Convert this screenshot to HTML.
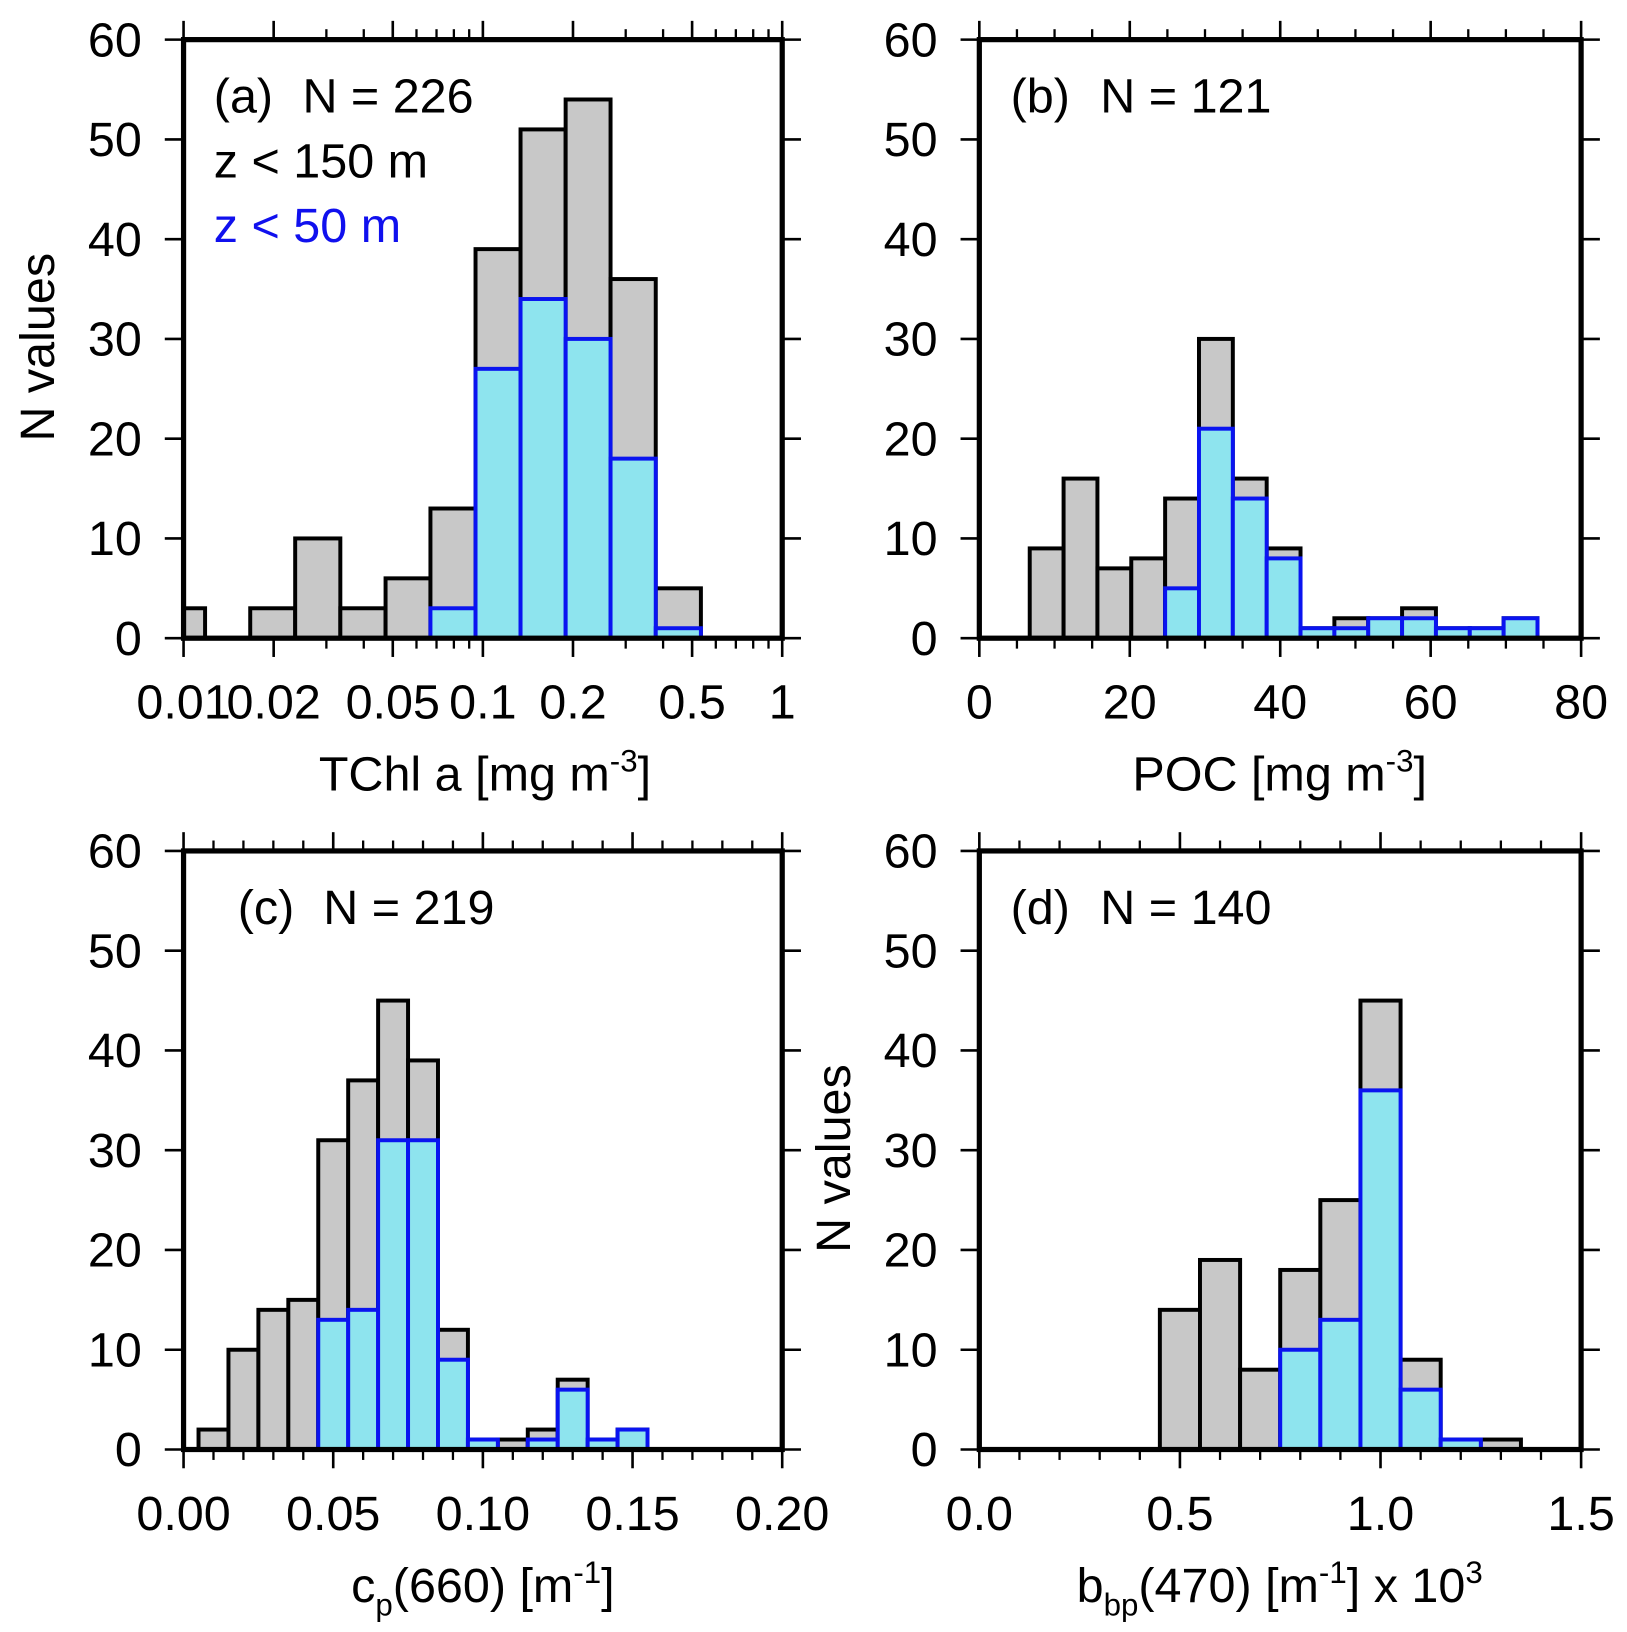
<!DOCTYPE html>
<html><head><meta charset="utf-8"><style>html,body{margin:0;padding:0;background:#fff}svg{display:block}text{font-family:"Liberation Sans",Arial,sans-serif;fill:#000}</style></head>
<body>
<svg id="fig" width="1627" height="1632" viewBox="0 0 1560 1565" preserveAspectRatio="none" xmlns="http://www.w3.org/2000/svg"></svg>
<script>
// Panel (a) TChl a, log bins
const aEdges = [0.00835,0.0118,0.0167,0.0236,0.0334,0.0473,0.0668,0.0945,0.1336,0.189,0.267,0.378,0.535];
const aGray = [3,0,3,10,3,6,13,39,51,54,36,5];
const aBlue = [0,0,0,0,0,0,3,27,34,30,18,1];
const aTicks = [0.01,0.02,0.05,0.1,0.2,0.5,1];
const aTickLabels = ["0.01","0.02","0.05","0.1","0.2","0.5","1"];
// Panel (b) POC
const bEdges = [6.7,11.2,15.7,20.2,24.7,29.2,33.7,38.2,42.7,47.2,51.7,56.2,60.7,65.2,69.7,74.2];
const bGray = [9,16,7,8,14,30,16,9,1,2,2,3,1,1,2];
const bBlue = [0,0,0,0,5,21,14,8,1,1,2,2,1,1,2];
const bTicks = [0,20,40,60,80];
const bTickLabels = ["0","20","40","60","80"];
// Panel (c) cp(660)
const cEdges = [0.005,0.015,0.025,0.035,0.045,0.055,0.065,0.075,0.085,0.095,0.105,0.115,0.125,0.135,0.145,0.155];
const cGray = [2,10,14,15,31,37,45,39,12,1,1,2,7,1,2];
const cBlue = [0,0,0,0,13,14,31,31,9,1,0,1,6,1,2];
const cTicks = [0,0.05,0.10,0.15,0.20];
const cTickLabels = ["0.00","0.05","0.10","0.15","0.20"];
// Panel (d) bbp(470)
const dEdges = [0.45,0.55,0.65,0.75,0.85,0.95,1.05,1.15,1.25,1.35];
const dGray = [14,19,8,18,25,45,9,1,1];
const dBlue = [0,0,0,10,13,36,6,1,0];
const dTicks = [0,0.5,1.0,1.5];
const dTickLabels = ["0.0","0.5","1.0","1.5"];
const yTicks = [0,10,20,30,40,50,60];

const FS = 46.5;
const NS = "http://www.w3.org/2000/svg";
const svg = document.getElementById('fig');
function el(tag, attrs, parent, txt){
  const e = document.createElementNS(NS, tag);
  for (const k in attrs) e.setAttribute(k, attrs[k]);
  if (txt !== undefined) e.textContent = txt;
  (parent||svg).appendChild(e);
  return e;
}

const panels = [
 {id:'a', x0:176, x1:750, y0:38, y1:612, log:true, dmin:0.01, dmax:1, edges:aEdges, gray:aGray, blue:aBlue, ticks:aTicks, labels:aTickLabels,
  minor:[0.03,0.04,0.06,0.07,0.08,0.09,0.3,0.4,0.6,0.7,0.8,0.9], ylabel:true},
 {id:'b', x0:939, x1:1516, y0:38, y1:612, log:false, dmin:0, dmax:80, edges:bEdges, gray:bGray, blue:bBlue, ticks:bTicks, labels:bTickLabels,
  minor:[5,10,15,25,30,35,45,50,55,65,70,75], ylabel:false},
 {id:'c', x0:176, x1:750, y0:816, y1:1390, log:false, dmin:0, dmax:0.2, edges:cEdges, gray:cGray, blue:cBlue, ticks:cTicks, labels:cTickLabels,
  minor:[0.01,0.02,0.03,0.04,0.06,0.07,0.08,0.09,0.11,0.12,0.13,0.14,0.16,0.17,0.18,0.19], ylabel:false},
 {id:'d', x0:939, x1:1516, y0:816, y1:1390, log:false, dmin:0, dmax:1.5, edges:dEdges, gray:dGray, blue:dBlue, ticks:dTicks, labels:dTickLabels,
  minor:[0.1,0.2,0.3,0.4,0.6,0.7,0.8,0.9,1.1,1.2,1.3,1.4], ylabel:true}
];

panels.forEach(p => {
  const g = el('g', {});
  
  
  const xs = v => {
    if (p.log) return p.x0 + (Math.log10(v) - Math.log10(p.dmin)) / (Math.log10(p.dmax) - Math.log10(p.dmin)) * (p.x1 - p.x0);
    return p.x0 + (v - p.dmin) / (p.dmax - p.dmin) * (p.x1 - p.x0);
  };
  const ys = v => p.y1 - v / 60 * (p.y1 - p.y0);
  const cx = v => Math.max(p.x0, xs(v));
  p.gray.forEach((v, i) => {
    if (v <= 0) return;
    const xa = cx(p.edges[i]), xb = cx(p.edges[i+1]);
    const r = el('rect', {x:xa, y:ys(v), width:xb-xa, height:ys(0)-ys(v), fill:'#c8c8c8', stroke:'#000', 'stroke-width':3.8}, g);
    
    
  });
  p.blue.forEach((v, i) => {
    if (v <= 0) return;
    const xa = cx(p.edges[i]), xb = cx(p.edges[i+1]);
    const r = el('rect', {x:xa, y:ys(v), width:xb-xa, height:ys(0)-ys(v), fill:'#8ee4ee', stroke:'#0a14f0', 'stroke-width':3.8}, g);
    
    
  });
  const fr = el('rect', {x:p.x0, y:p.y0, width:p.x1-p.x0, height:p.y1-p.y0, fill:'none', stroke:'#000', 'stroke-width':5}, g);
  
  
  yTicks.forEach(t => {
    const y = ys(t);
    el('line', {x1:p.x0-18, x2:p.x0, y1:y, y2:y, stroke:'#000', 'stroke-width':2.5}, g);
    el('line', {x1:p.x1, x2:p.x1+18, y1:y, y2:y, stroke:'#000', 'stroke-width':2.5}, g);
    const tl = el('text', {x:p.x0-40, y:y+16, 'font-size':FS, 'text-anchor':'end'}, g, String(t));
    
    
  });
  p.ticks.forEach((t, i) => {
    const x = xs(t);
    el('line', {x1:x, x2:x, y1:p.y1, y2:p.y1+18, stroke:'#000', 'stroke-width':2.5}, g);
    el('line', {x1:x, x2:x, y1:p.y0-18, y2:p.y0, stroke:'#000', 'stroke-width':2.5}, g);
    const tl = el('text', {x:x, y:p.y1+77, 'font-size':FS, 'text-anchor':'middle'}, g, p.labels[i]);
    
    
  });
  p.minor.forEach(t => {
    const x = xs(t);
    el('line', {x1:x, x2:x, y1:p.y1, y2:p.y1+10, stroke:'#000', 'stroke-width':2.2}, g);
    el('line', {x1:x, x2:x, y1:p.y0-10, y2:p.y0, stroke:'#000', 'stroke-width':2.2}, g);
  });
  if (p.ylabel) {
    const cxl = p.id === 'a' ? 52 : 815;
    const cyl = (p.y0 + p.y1) / 2 + 8;
    const yl = el('text', {x:cxl, y:cyl, 'font-size':FS, 'text-anchor':'middle', transform:'rotate(-90 '+cxl+' '+cyl+')'}, g, 'N values');
    
    
  }
});

function txt(x, y, s, name, extra){
  const t = el('text', Object.assign({x:x, y:y, 'font-size':FS}, extra||{}));
  t.innerHTML = s;
  
  
  return t;
}
txt(205, 108, '(a)', 'panel-a-label'); txt(290, 108, 'N = 226', 'panel-a-count');
txt(205, 170, 'z &lt; 150 m', 'legend-z150');
txt(205, 232, 'z &lt; 50 m', 'legend-z50', {style:'fill:#1010ee'});
txt(969, 108, '(b)', 'panel-b-label'); txt(1055, 108, 'N = 121', 'panel-b-count');
txt(228, 886, '(c)', 'panel-c-label'); txt(310, 886, 'N = 219', 'panel-c-count');
txt(969, 886, '(d)', 'panel-d-label'); txt(1055, 886, 'N = 140', 'panel-d-count');
txt(465, 758, 'TChl a [mg m<tspan dy="-18" font-size="30">-3</tspan><tspan dy="18">]</tspan>', 'x-axis-title-a', {'text-anchor':'middle'});
txt(1227, 758, 'POC [mg m<tspan dy="-18" font-size="30">-3</tspan><tspan dy="18">]</tspan>', 'x-axis-title-b', {'text-anchor':'middle'});
txt(463, 1536, 'c<tspan dy="13" font-size="30">p</tspan><tspan dy="-13">(660) [m</tspan><tspan dy="-18" font-size="30">-1</tspan><tspan dy="18">]</tspan>', 'x-axis-title-c', {'text-anchor':'middle'});
txt(1227, 1536, 'b<tspan dy="13" font-size="30">bp</tspan><tspan dy="-13">(470) [m</tspan><tspan dy="-18" font-size="30">-1</tspan><tspan dy="18">] x 10</tspan><tspan dy="-18" font-size="30">3</tspan>', 'x-axis-title-d', {'text-anchor':'middle'});
</script>
</body></html>
